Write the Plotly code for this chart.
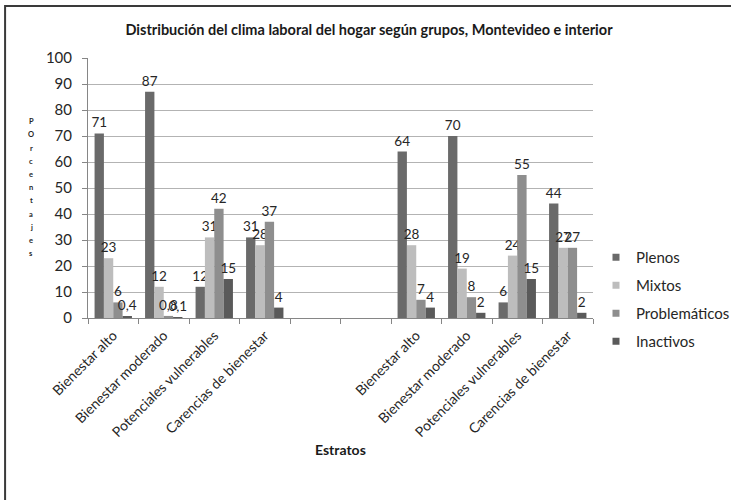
import plotly.graph_objects as go

# ---- data ----
categorias = ["Bienestar alto", "Bienestar moderado", "Potenciales vulnerables", "Carencias de bienestar",
              "", "",
              "Bienestar alto", "Bienestar moderado", "Potenciales vulnerables", "Carencias de bienestar"]
series = ["Plenos", "Mixtos", "Problemáticos", "Inactivos"]
plenos = [71, 87, 12, 31, None, None, 64, 70, 6, 44]
mixtos = [23, 12, 31, 28, None, None, 28, 19, 24, 27]
problematicos = [6, 0.8, 42, 37, None, None, 7, 8, 55, 27]
inactivos = [0.4, 0.1, 15, 4, None, None, 4, 2, 15, 2]
yticks = list(range(0, 101, 10))

valores = [plenos, mixtos, problematicos, inactivos]
colores = ["#6a6a6a", "#bdbdbd", "#8e8e8e", "#5a5a5a"]

W, H = 731, 500
L, R, T, B = 87.5, 138, 58, 182
pw, ph = W - L - R, H - T - B

def px2x(px):
    return (px - L) / pw

def px2y(py):
    return (H - B - py) / ph

def fmt(v):
    if v is None:
        return ""
    s = ("%g" % v)
    return s.replace(".", ",")

x = list(range(len(categorias)))
FONT = "Lato"

fig = go.Figure()
for name, vals, col in zip(series, valores, colores):
    fig.add_trace(go.Bar(
        x=x, y=vals, name=name, marker=dict(color=col, line=dict(width=0)),
        text=[fmt(v) for v in vals], textposition="outside",
        textfont=dict(family=FONT, size=13.5, color="#262626"),
        constraintext="none", cliponaxis=False, showlegend=False,
        hoverinfo="skip"))
    fig.add_trace(go.Scatter(
        x=[None], y=[None], mode="markers", name=name,
        marker=dict(symbol="square", size=7, color=col),
        legendgroup=name, hoverinfo="skip"))

fig.update_layout(
    width=W, height=H,
    margin=dict(l=L, r=R, t=T, b=B, pad=0, autoexpand=False),
    paper_bgcolor="white", plot_bgcolor="white",
    barmode="group", bargap=0.26, bargroupgap=0,
    font=dict(family=FONT, color="#262626"),
    title=dict(text="<b>Distribución del clima laboral del hogar según grupos, Montevideo e interior</b>",
               x=369 / W, xanchor="center", xref="container", y=1 - 30 / H, yanchor="middle",
               yref="container", font=dict(family=FONT, size=14.5, color="#1a1a1a")),
    legend=dict(x=px2x(596), y=px2y(241), xanchor="left", yanchor="top",
                font=dict(family=FONT, size=15, color="#262626"),
                tracegroupgap=5.5, bgcolor="rgba(0,0,0,0)"),
    showlegend=True,
)
fig.update_xaxes(
    range=[-0.5, len(categorias) - 0.5], tickmode="array", tickvals=x, ticktext=categorias,
    tickangle=-45, ticks="", tickfont=dict(family=FONT, size=14, color="#262626"),
    ticklabelstandoff=3, automargin=False,
    showline=True, linecolor="#868686", linewidth=1, showgrid=False, zeroline=False,
    minor=dict(ticks="outside", tick0=-0.5, dtick=1, ticklen=5, tickcolor="#868686", showgrid=False),
)
fig.update_yaxes(
    range=[0, 100], tickmode="array", tickvals=yticks, ticks="outside", ticklen=5,
    tickcolor="#868686", tickfont=dict(family=FONT, size=15, color="#262626"),
    ticklabelstandoff=7, automargin=False,
    showline=True, linecolor="#868686", linewidth=1,
    showgrid=True, gridcolor="#b3b3b3", gridwidth=1, zeroline=False,
)

# x axis title
fig.add_annotation(text="<b>Estratos</b>", xref="paper", yref="paper",
                   x=0.5, y=px2y(449), showarrow=False, xanchor="center", yanchor="middle",
                   font=dict(family=FONT, size=14, color="#1a1a1a"))

# vertical stacked axis title letters
letras = list("POrcentajes")
for i, ch in enumerate(letras):
    fig.add_annotation(text="<b>%s</b>" % ch, xref="paper", yref="paper",
                       x=px2x(30.7), y=px2y(121.7 + i * 13.2), showarrow=False,
                       xanchor="center", yanchor="middle",
                       font=dict(family=FONT, size=7.5, color="#262626"))

# chart-area border
fig.add_shape(type="rect", xref="paper", yref="paper",
              x0=px2x(4.5), x1=px2x(760), y0=px2y(530), y1=px2y(6),
              line=dict(color="#3a3a3a", width=2), layer="above")

fig.write_html("out.html")
